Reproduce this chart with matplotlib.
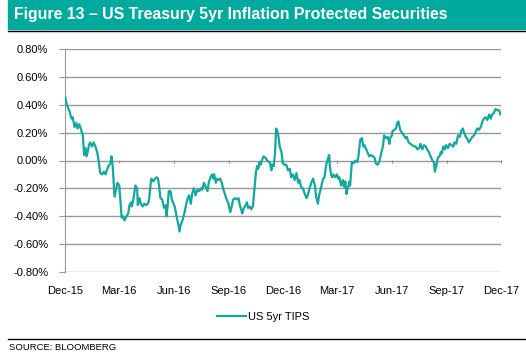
import matplotlib
matplotlib.use('Agg')
import matplotlib.pyplot as plt
import matplotlib.dates as mdates
from matplotlib.patches import Rectangle
from matplotlib.lines import Line2D
import numpy as np
import pandas as pd

plt.rcParams['font.family'] = ['Liberation Sans', 'DejaVu Sans']

# days after 1 Dec 2015, and the 5yr TIPS yield (%)
start = pd.Timestamp('2015-12-01')
days = [0, 3, 7, 11, 13, 16, 19, 21, 24, 27, 30, 32, 34, 36, 38, 40, 42, 45, 48, 51,
        54, 57, 59, 62, 65, 68, 70, 73, 76, 78, 80, 82, 83, 86, 88, 91, 93, 95, 97, 100,
        103, 106, 108, 111, 112, 115, 118, 121, 122, 125, 127, 130, 133, 136, 139, 141, 144, 145, 148, 151,
        154, 156, 158, 160, 163, 166, 169, 170, 172, 174, 177, 179, 182, 184, 187, 190, 192, 194, 197, 200,
        202, 205, 208, 211, 213, 216, 219, 222, 225, 228, 230, 233, 236, 239, 241, 244, 247, 249, 250, 253,
        254, 257, 260, 263, 265, 268, 271, 274, 277, 279, 282, 285, 288, 291, 293, 296, 297, 300, 303, 305,
        307, 310, 312, 315, 318, 320, 322, 324, 326, 328, 330, 333, 336, 339, 342, 344, 346, 348, 350, 352,
        354, 356, 358, 360, 363, 365, 368, 371, 374, 377, 379, 382, 385, 388, 391, 393, 396, 399, 402, 405,
        407, 410, 413, 416, 419, 421, 424, 426, 429, 431, 433, 435, 438, 440, 442, 443, 444, 446, 448, 450,
        453, 456, 458, 460, 463, 466, 468, 470, 472, 474, 477, 478, 481, 484, 487, 490, 492, 495, 498, 500,
        502, 505, 508, 510, 513, 516, 519, 521, 524, 527, 530, 533, 535, 538, 541, 544, 545, 548, 549, 552,
        555, 557, 559, 562, 565, 568, 571, 573, 576, 579, 582, 586, 588, 591, 594, 596, 599, 602, 605, 607,
        610, 613, 616, 619, 620, 623, 625, 628, 630, 632, 634, 637, 639, 642, 645, 648, 651, 653, 656, 659,
        662, 664, 667, 669, 672, 674, 677, 680, 683, 686, 689, 691, 694, 697, 700, 702, 705, 708, 711, 714,
        716, 719, 722, 725, 728, 730]
tips = [0.46, 0.40, 0.36, 0.30, 0.31, 0.24, 0.27, 0.23, 0.26, 0.22, 0.18, 0.04, 0.09, 0.03, 0.06, 0.11, 0.13, 0.10, 0.13, 0.10,
        0.06, -0.02, -0.09, -0.10, -0.08, -0.10, -0.07, -0.04, -0.02, 0.03, -0.04, -0.18, -0.26, -0.20, -0.16, -0.18, -0.30, -0.41, -0.40, -0.43,
        -0.40, -0.38, -0.32, -0.30, -0.33, -0.27, -0.18, -0.20, -0.32, -0.27, -0.31, -0.33, -0.31, -0.32, -0.31, -0.28, -0.15, -0.13, -0.15, -0.13,
        -0.12, -0.13, -0.19, -0.27, -0.28, -0.34, -0.32, -0.40, -0.33, -0.22, -0.22, -0.28, -0.31, -0.33, -0.40, -0.46, -0.51, -0.46, -0.43, -0.38,
        -0.34, -0.28, -0.25, -0.31, -0.24, -0.20, -0.25, -0.21, -0.22, -0.20, -0.21, -0.16, -0.19, -0.22, -0.16, -0.12, -0.10, -0.13, -0.10, -0.16,
        -0.13, -0.14, -0.13, -0.16, -0.20, -0.24, -0.28, -0.31, -0.37, -0.34, -0.28, -0.27, -0.28, -0.27, -0.32, -0.36, -0.38, -0.34, -0.32, -0.30,
        -0.34, -0.33, -0.35, -0.33, -0.19, -0.09, -0.04, -0.06, -0.01, -0.03, 0.00, 0.03, 0.02, 0.00, -0.01, -0.02, -0.07, -0.03, -0.04, 0.05,
        0.23, 0.21, 0.17, 0.10, 0.06, -0.02, -0.03, -0.03, -0.07, -0.06, -0.12, -0.10, -0.14, -0.09, -0.16, -0.14, -0.19, -0.20, -0.24, -0.27,
        -0.25, -0.20, -0.16, -0.13, -0.18, -0.26, -0.31, -0.25, -0.20, -0.16, -0.13, -0.12, -0.03, 0.00, 0.03, 0.04, -0.04, -0.10, -0.12, -0.10,
        -0.12, -0.10, -0.13, -0.12, -0.18, -0.14, -0.19, -0.15, -0.24, -0.20, -0.15, -0.18, -0.01, -0.02, 0.00, -0.01, 0.03, 0.15, 0.16, 0.10,
        0.11, 0.08, 0.05, 0.03, 0.04, 0.03, 0.02, -0.02, -0.03, -0.01, 0.05, 0.10, 0.18, 0.16, 0.17, 0.12, 0.16, 0.18, 0.21, 0.22,
        0.23, 0.27, 0.28, 0.22, 0.20, 0.18, 0.16, 0.17, 0.13, 0.12, 0.11, 0.10, 0.10, 0.08, 0.09, 0.12, 0.08, 0.11, 0.10, 0.08,
        0.06, 0.03, 0.00, -0.02, -0.08, -0.03, 0.02, 0.03, 0.06, 0.05, 0.10, 0.08, 0.11, 0.09, 0.12, 0.11, 0.10, 0.13, 0.12, 0.18,
        0.17, 0.21, 0.23, 0.20, 0.17, 0.16, 0.13, 0.15, 0.17, 0.18, 0.21, 0.23, 0.22, 0.24, 0.28, 0.30, 0.31, 0.29, 0.33, 0.30,
        0.33, 0.34, 0.37, 0.36, 0.36, 0.33]
yticks = [-0.8, -0.6, -0.4, -0.2, 0.0, 0.2, 0.4, 0.6, 0.8]
xlabel_months = ['2015-12-01', '2016-03-01', '2016-06-01', '2016-09-01', '2016-12-01',
                 '2017-03-01', '2017-06-01', '2017-09-01', '2017-12-01']

dates = start + pd.to_timedelta(days, unit='D')
teal = '#13a89e'
grey = '#999999'

fig = plt.figure(figsize=(5.26, 3.55), dpi=100)

# title band
fig.patches.append(Rectangle((8 / 526, 1 - 29 / 355), 1, 29 / 355, transform=fig.transFigure,
                             color='#00a99d', zorder=0))
fig.text(14 / 526, 1 - 15 / 355, 'Figure 13 \u2013 US Treasury 5yr Inflation Protected Securities',
         color='white', fontsize=11.4, fontweight='bold', va='center', ha='left')
fig.add_artist(Line2D([8 / 526, 1], [1 - 31 / 355] * 2, transform=fig.transFigure, color='black', lw=1))
fig.add_artist(Line2D([8 / 526, 1], [1 - 339 / 355] * 2, transform=fig.transFigure, color='black', lw=1))
fig.text(9 / 526, 1 - 347 / 355, 'SOURCE: BLOOMBERG', fontsize=6.8, va='center', ha='left')

ax = fig.add_axes([65 / 526, 1 - 272 / 355, 436 / 526, 223 / 355])
ax.plot(dates, tips, color=teal, lw=1.6, label='US 5yr TIPS', zorder=3)

ax.set_ylim(-0.8, 0.8)
ax.set_xlim(pd.Timestamp(xlabel_months[0]), pd.Timestamp(xlabel_months[-1]))
ax.set_yticks(yticks)
ax.set_yticklabels(['%.2f%%' % v for v in yticks], fontsize=8)
ax.yaxis.grid(True, color=grey, lw=1)
ax.set_axisbelow(True)

ticks = pd.to_datetime(xlabel_months)
ax.set_xticks(ticks)
ax.xaxis.set_major_formatter(mdates.DateFormatter('%b-%y'))
ax.tick_params(axis='x', length=0, labelsize=8, pad=10)
ax.tick_params(axis='y', length=4, color=grey, pad=8)

for s in ['top', 'right', 'bottom']:
    ax.spines[s].set_visible(False)
ax.spines['left'].set_color(grey)

# the zero axis line with its small ticks
zero = ax.secondary_xaxis(0.5)
zero.set_xticks(ticks)
zero.tick_params(length=2, color='#8c8c8c', labelbottom=False, labeltop=False)
zero.spines['bottom'].set_color('#8c8c8c')
zero.spines['bottom'].set_linewidth(2.5)
zero.spines['top'].set_visible(False)
zero.xaxis.set_ticks_position('bottom')
zero.set_xticklabels([])

fig.legend(loc='center', bbox_to_anchor=(263 / 526, 1 - 317 / 355), frameon=False,
           fontsize=8, handlelength=2.6, handletextpad=0.2)

fig.savefig('out.png', dpi=100)
